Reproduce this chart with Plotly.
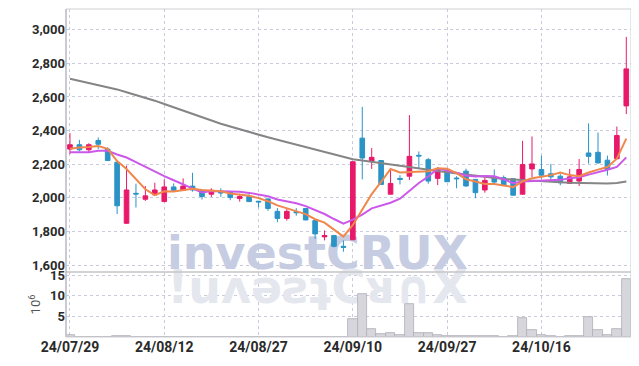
import plotly.graph_objects as go
import numpy as np

dates = ["24/07/29", "24/07/30", "24/07/31", "24/08/01", "24/08/02", "24/08/05", "24/08/06", "24/08/07",
         "24/08/08", "24/08/09", "24/08/12", "24/08/13", "24/08/14", "24/08/16", "24/08/19", "24/08/20",
         "24/08/21", "24/08/22", "24/08/23", "24/08/26", "24/08/27", "24/08/28", "24/08/29", "24/08/30",
         "24/09/02", "24/09/03", "24/09/04", "24/09/05", "24/09/06", "24/09/09", "24/09/10", "24/09/11",
         "24/09/12", "24/09/13", "24/09/19", "24/09/20", "24/09/23", "24/09/24", "24/09/25", "24/09/26",
         "24/09/27", "24/09/30", "24/10/02", "24/10/04", "24/10/07", "24/10/08", "24/10/10", "24/10/11",
         "24/10/14", "24/10/15", "24/10/16", "24/10/17", "24/10/18", "24/10/21", "24/10/22", "24/10/23",
         "24/10/24", "24/10/25", "24/10/28", "24/10/29"]

opens = [2290, 2316, 2286, 2341, 2290, 2212, 1849, 2027, 1992, 2018,
         1978, 2065, 2045, 2070, 2045, 2022, 2037, 2037, 1996, 2008,
         1980, 1994, 1920, 1878, 1918, 1937, 1865, 1768, 1776, 1712,
         1751, 2355, 2218, 2222, 2022, 2116, 2129, 2253, 2227, 2116,
         2163, 2118, 2159, 2110, 2047, 2120, 2120, 2114, 2022, 2172,
         2169, 2143, 2129, 2086, 2100, 2267, 2271, 2224, 2233, 2547]
highs = [2385, 2345, 2325, 2359, 2300, 2215, 2192, 2084, 2070, 2090,
         2110, 2086, 2116, 2149, 2050, 2057, 2057, 2040, 2025, 2022,
         1982, 1996, 1939, 1933, 1939, 1940, 1868, 1806, 1780, 1747,
         2215, 2541, 2296, 2225, 2178, 2135, 2492, 2276, 2237, 2182,
         2178, 2129, 2174, 2112, 2129, 2169, 2133, 2118, 2339, 2365,
         2251, 2202, 2143, 2172, 2231, 2443, 2388, 2251, 2424, 2957]
lows = [2260, 2276, 2270, 2290, 2222, 1904, 1845, 1943, 1982, 2015,
        1975, 2040, 2041, 2037, 1990, 2006, 2006, 1986, 1978, 1975,
        1943, 1923, 1855, 1865, 1894, 1866, 1757, 1747, 1706, 1680,
        1751, 2110, 2172, 2078, 2020, 2080, 2106, 2178, 2084, 2076,
        2094, 2057, 2065, 1998, 2031, 2084, 2070, 2014, 2020, 2124,
        2114, 2106, 2075, 2084, 2071, 2204, 2204, 2133, 2230, 2498]
closes = [2316, 2286, 2316, 2319, 2222, 1953, 2047, 2023, 2012, 2047,
          2065, 2045, 2070, 2047, 2008, 2045, 2029, 2002, 2008, 1978,
          1976, 1937, 1878, 1920, 1912, 1869, 1786, 1776, 1712, 1706,
          2215, 2237, 2241, 2080, 2086, 2110, 2247, 2249, 2100, 2174,
          2096, 2114, 2071, 2031, 2104, 2094, 2076, 2016, 2198, 2202,
          2135, 2125, 2090, 2125, 2169, 2247, 2208, 2169, 2371, 2767]
volumes = [0.4, 0.05, 0.05, 0.05, 0.1, 0.3, 0.3, 0.08, 0.05, 0.05,
           0.05, 0.04, 0.05, 0.04, 0.05, 0.04, 0.05, 0.04, 0.05, 0.04,
           0.05, 0.04, 0.05, 0.05, 0.04, 0.05, 0.06, 0.05, 0.06, 0.08,
           4.3, 10.4, 2.0, 0.65, 0.85, 0.45, 8.0, 0.85, 0.85, 0.4,
           0.2, 0.15, 0.15, 0.15, 0.15, 0.15, 0.1, 0.15, 4.7, 1.6,
           0.4, 0.15, 0.1, 0.15, 0.3, 4.9, 1.8, 0.45, 2.0, 14.0]

# moving-average values before enough in-window closes exist
ma5_head = [2292, 2300, 2303, 2308]
ma10_head = [2272, 2270, 2272, 2280, 2280, 2258, 2240, 2212, 2183]
ma60 = [2708, 2695, 2683, 2671, 2659, 2645, 2628, 2612, 2597, 2578,
        2558, 2538, 2518, 2498, 2478, 2458, 2441, 2424, 2407, 2390,
        2374, 2360, 2346, 2331, 2316, 2301, 2287, 2272, 2257, 2242,
        2230, 2222, 2214, 2206, 2198, 2188, 2180, 2172, 2166, 2160,
        2153, 2146, 2139, 2132, 2125, 2118, 2113, 2109, 2105, 2102,
        2099, 2096, 2093, 2090, 2088, 2086, 2086, 2086, 2089, 2097]

price_ticks = [1600, 1800, 2000, 2200, 2400, 2600, 2800, 3000]
vol_ticks = [5, 10, 15]
watermark = "investCRUX"
watermark_reflection = "!uʌǝƨʇC\u1D1A∩X"

n = len(closes)
idx = list(range(n))
c = np.array(closes, dtype=float)
ma5 = [ma5_head[i] if i < 4 else c[i-4:i+1].mean() for i in range(n)]
ma10 = [ma10_head[i] if i < 9 else c[i-9:i+1].mean() for i in range(n)]

tick_idx = list(range(0, n, 10))
xr = [-0.42, 59.5]
yr = [1559, 3123]
vr = [0, 15.8]
vol_dom = 0.198
grid_col = "#c9cbdc"
font_fam = "Roboto, 'Open Sans', sans-serif"
wm_font = "'DejaVu Sans', sans-serif"

fig = go.Figure()

# watermark on the base subplots (drawn beneath the overlay subplots that carry the data)
fig.add_trace(go.Scatter(x=[26.25], y=[1648], mode="text", text=[watermark],
                         textposition="middle center", cliponaxis=False, hoverinfo="skip",
                         textfont=dict(family=wm_font, size=46, color="#c6cde2", weight="bold"),
                         xaxis="x", yaxis="y", showlegend=False))
fig.add_trace(go.Scatter(x=[26.25], y=[11.0], mode="text", text=[watermark_reflection],
                         textposition="middle center", cliponaxis=False, hoverinfo="skip",
                         textfont=dict(family=wm_font, size=46, color="#e5e7ef", weight="bold"),
                         xaxis="x2", yaxis="y2", showlegend=False))

fig.add_trace(go.Candlestick(x=idx, open=opens, high=highs, low=lows, close=closes,
                             increasing=dict(line=dict(color="#e8196a", width=1), fillcolor="#e8196a"),
                             decreasing=dict(line=dict(color="#2b93c7", width=1), fillcolor="#2b93c7"),
                             whiskerwidth=0, xaxis="x3", yaxis="y3", showlegend=False))
fig.add_trace(go.Scatter(x=idx, y=ma60, mode="lines", line=dict(color="#858585", width=2),
                         xaxis="x3", yaxis="y3", showlegend=False))
fig.add_trace(go.Scatter(x=idx, y=ma10, mode="lines", line=dict(color="#cc58ea", width=2),
                         xaxis="x3", yaxis="y3", showlegend=False))
fig.add_trace(go.Scatter(x=idx, y=ma5, mode="lines", line=dict(color="#f0874c", width=2),
                         xaxis="x3", yaxis="y3", showlegend=False))

fig.add_trace(go.Bar(x=idx, y=volumes, marker=dict(color="#d6d6dc", line=dict(color="#adadb6", width=0.8)),
                     xaxis="x4", yaxis="y4", showlegend=False))

axis_common = dict(showline=False, zeroline=False, gridcolor=grid_col, griddash="dot", gridwidth=1,
                   automargin=False)
hidden = dict(autorange=False, visible=False, automargin=False)

# page body has an 8px margin; size the figure so the plot lands where the reference has it
fig.update_layout(
    width=631, height=358,
    margin=dict(l=58, r=8, t=1, b=29, autoexpand=False),
    paper_bgcolor="white", plot_bgcolor="rgba(0,0,0,0)",
    bargap=0.0,
    xaxis=dict(domain=[0, 1], anchor="y", range=xr, tickvals=tick_idx, showticklabels=False,
               showgrid=True, rangeslider=dict(visible=False), **axis_common),
    yaxis=dict(domain=[vol_dom, 1], anchor="x", range=yr, tickvals=price_ticks,
               tickformat=",", showgrid=True,
               tickfont=dict(family=font_fam, size=13, color="#2a2a2a", weight="bold"), **axis_common),
    xaxis3=dict(overlaying="x", anchor="y3", range=xr, rangeslider=dict(visible=False), **hidden),
    yaxis3=dict(overlaying="y", anchor="x3", range=yr, **hidden),
    xaxis2=dict(domain=[0, 1], anchor="y2", range=xr, tickvals=tick_idx,
                ticktext=[dates[i] for i in tick_idx], showgrid=True,
                tickfont=dict(family=font_fam, size=14, color="#2a2a2a", weight="bold"), **axis_common),
    yaxis2=dict(domain=[0, vol_dom], anchor="x2", range=vr, tickvals=vol_ticks, showgrid=True,
                tickfont=dict(family=font_fam, size=13, color="#2a2a2a", weight="bold"),
                title=dict(text="10<sup>6</sup>", font=dict(family=font_fam, size=13, color="#555"), standoff=6),
                **axis_common),
    xaxis4=dict(overlaying="x2", anchor="y4", range=xr, **hidden),
    yaxis4=dict(overlaying="y2", anchor="x4", range=vr, **hidden),
    shapes=[
        dict(type="rect", xref="paper", yref="paper", x0=0, x1=1, y0=0, y1=1,
             line=dict(color="#cfcfd4", width=1), layer="above"),
        dict(type="line", xref="paper", yref="paper", x0=0, x1=1, y0=vol_dom, y1=vol_dom,
             line=dict(color="#c4c4c8", width=1.5), layer="above"),
        dict(type="line", xref="paper", yref="paper", x0=0, x1=0, y0=0, y1=1,
             line=dict(color="#c0c0c6", width=1.5), layer="above"),
    ],
)

fig.write_html("out.html")
